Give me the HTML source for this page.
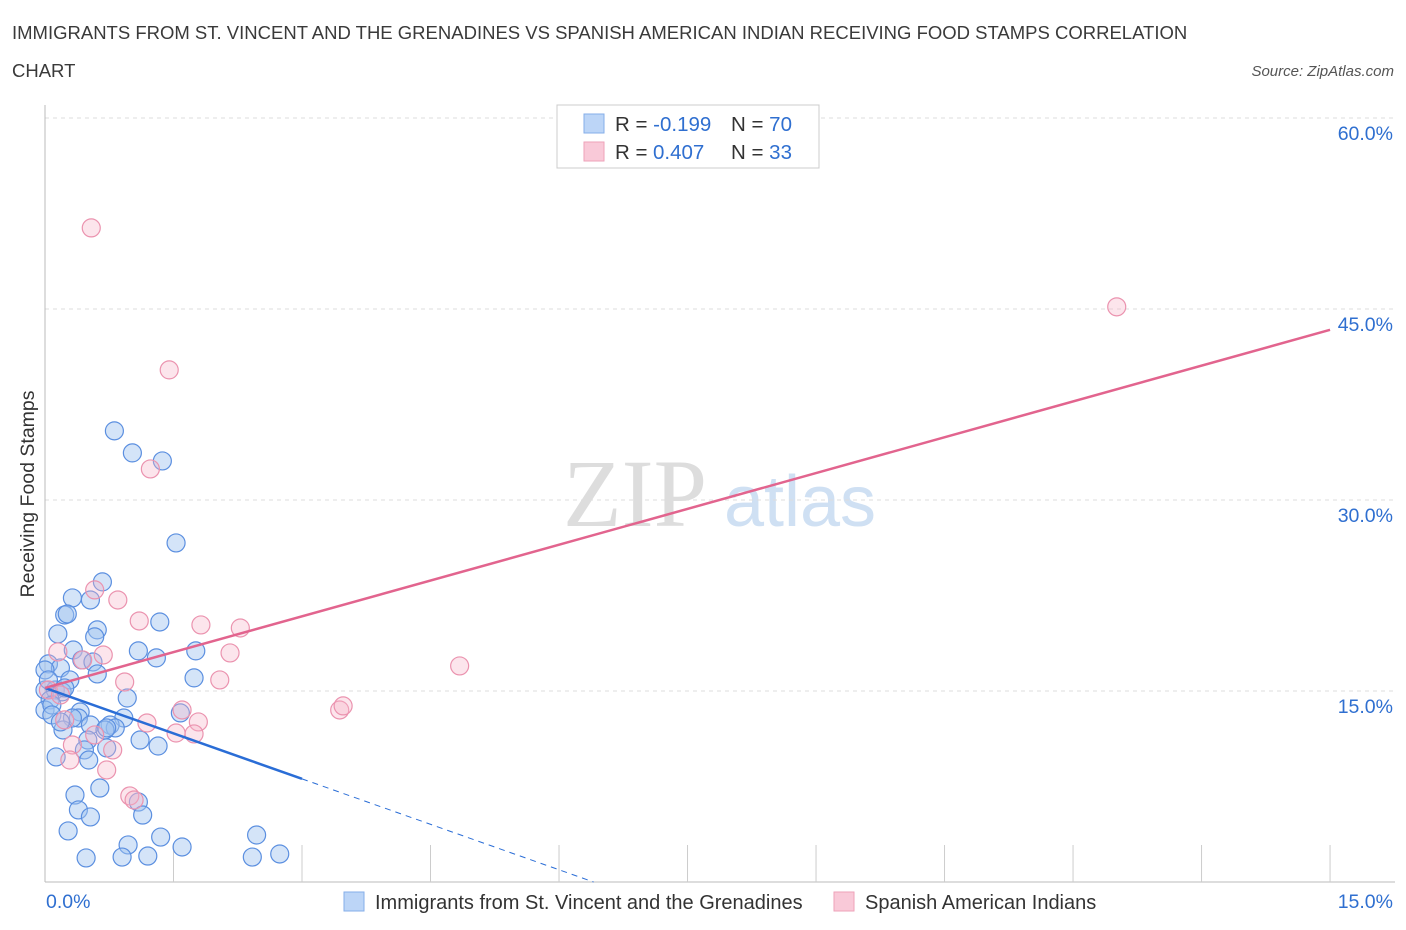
<!DOCTYPE html>
<html><head><meta charset="utf-8"><style>
body{margin:0;background:#fff;font-family:"Liberation Sans",sans-serif;}
</style></head><body>
<svg id="chart" width="1406" height="930" xmlns="http://www.w3.org/2000/svg" style="display:block">
<text x="12" y="39" font-size="18.5" fill="#3a3a3a">IMMIGRANTS FROM ST. VINCENT AND THE GRENADINES VS SPANISH AMERICAN INDIAN RECEIVING FOOD STAMPS CORRELATION</text>
<text x="12" y="77" font-size="18.5" fill="#3a3a3a">CHART</text>
<text x="1394" y="76" font-size="15" font-style="italic" fill="#555" text-anchor="end">Source: ZipAtlas.com</text>
<text transform="translate(34,494) rotate(-90)" font-size="19.5" fill="#333" text-anchor="middle">Receiving Food Stamps</text>
<g>
<text x="635" y="526" font-size="96" font-family="Liberation Serif,serif" fill="#ddd" text-anchor="middle">ZIP</text>
<text x="800" y="526" font-size="72" fill="#cfe0f3" text-anchor="middle">atlas</text>
</g>
<g id="grid"></g><g id="axes"></g><g id="marks"></g>
<g>
<rect x="557" y="105" width="262" height="63" fill="#fff" stroke="#ccc"/>
<rect x="584" y="114" width="20" height="19" fill="#bcd5f7" stroke="#85aee8"/>
<rect x="584" y="142" width="20" height="19" fill="#f9c9d8" stroke="#eea2b9"/>
<text x="615" y="131" font-size="20.5" fill="#333">R = <tspan fill="#2f6fd0">-0.199</tspan><tspan x="731">N = </tspan><tspan fill="#2f6fd0">70</tspan></text>
<text x="615" y="159" font-size="20.5" fill="#333">R = <tspan fill="#2f6fd0" x="653">0.407</tspan><tspan x="731">N = </tspan><tspan fill="#2f6fd0">33</tspan></text>
</g>
<g>
<rect x="344" y="892" width="20" height="19" fill="#bcd5f7" stroke="#85aee8"/>
<text x="375" y="909" font-size="20" fill="#333">Immigrants from St. Vincent and the Grenadines</text>
<rect x="834" y="892" width="20" height="19" fill="#f9c9d8" stroke="#eea2b9"/>
<text x="865" y="909" font-size="20" fill="#333">Spanish American Indians</text>
</g>
</svg>
<script>
const blueX=[0.81,1.02,1.37,1.53,0.67,0.32,0.53,0.23,0.26,0.15,0.61,0.58,1.34,1.09,1.30,1.76,0.33,0.43,0.56,0.04,0.18,0.61,0.29,1.74,0.00,0.12,0.20,0.06,0.96,0.00,0.08,0.41,0.39,0.53,0.32,1.58,0.92,0.76,0.82,0.70,0.21,0.50,1.11,1.32,0.46,0.13,0.51,0.64,0.35,1.09,0.39,0.53,1.14,0.27,1.35,2.47,0.97,1.60,0.48,0.90,1.20,2.42,2.74,0.72,0.00,0.04,0.08,0.18,0.72,0.23];
const blueY=[35.43,33.70,33.07,26.63,23.57,22.31,22.15,20.97,21.05,19.48,19.80,19.25,20.42,18.15,17.60,18.15,18.22,17.44,17.28,17.13,16.81,16.34,15.87,16.03,15.08,15.08,14.93,14.30,14.45,13.51,13.90,13.35,12.88,12.33,12.88,13.28,12.88,12.33,12.10,11.94,11.94,11.15,11.15,10.68,10.37,9.82,9.58,7.38,6.83,6.28,5.66,5.11,5.26,4.01,3.53,3.69,2.91,2.75,1.89,1.96,2.04,1.96,2.20,10.53,16.65,15.87,13.12,12.57,12.10,15.24];
const pinkX=[0.54,1.45,12.51,1.23,0.58,0.85,1.10,1.82,2.28,2.16,0.68,0.15,0.44,4.84,2.04,0.93,0.04,0.18,1.60,3.44,3.48,1.79,1.19,1.53,1.74,0.32,0.79,0.29,0.72,0.99,1.04,0.23,0.58];
const pinkY=[51.37,40.22,45.17,32.44,22.94,22.15,20.50,20.19,19.95,17.99,17.83,18.07,17.44,16.97,15.87,15.71,15.08,14.69,13.51,13.51,13.83,12.57,12.49,11.70,11.63,10.76,10.37,9.58,8.80,6.76,6.44,12.73,11.55];
const yTicks=[15,30,45,60];
const yTickLabels=["15.0%","30.0%","45.0%","60.0%"];
const xTickLabels=["0.0%","15.0%"];
const blueTrend=[15.24,-2.38]; // intercept, slope
const pinkTrend=[15.24,1.875];

const NS="http://www.w3.org/2000/svg";
const sx=v=>45+v*85.67, sy=v=>882-v*12.733;
function mk(t,a,p){const e=document.createElementNS(NS,t);for(const k in a)e.setAttribute(k,a[k]);p.appendChild(e);return e;}
const grid=document.getElementById('grid'),axes=document.getElementById('axes'),marks=document.getElementById('marks');
yTicks.forEach((t,i)=>{
 const l=mk('line',{x1:45,x2:1395,y1:sy(t),y2:sy(t),stroke:'#ddd','stroke-dasharray':'4,4'},grid);
 
 
 const tx=mk('text',{x:1393,y:sy(t)+22,'font-size':19.5,fill:'#2f6fd0','text-anchor':'end'},axes);
 tx.textContent=yTickLabels[i];
 
 
});
const ya=mk('line',{x1:45,x2:45,y1:105,y2:882,stroke:'#bbb'},axes);


const xa=mk('line',{x1:45,x2:1395,y1:882,y2:882,stroke:'#bbb'},axes);


for(let i=1;i<=10;i++){
 const t=mk('line',{x1:sx(i*1.5),x2:sx(i*1.5),y1:845,y2:882,stroke:'#ccc'},axes);
 
 
}
[[0,'start',46],[15,'end',1393]].forEach((d,i)=>{
 const tx=mk('text',{x:d[2],y:908,'font-size':19.5,fill:'#2f6fd0','text-anchor':d[1]},axes);
 tx.textContent=xTickLabels[i];
 
 
});
blueX.forEach((x,i)=>{
 const c=mk('circle',{cx:sx(x),cy:sy(blueY[i]),r:9,fill:'rgba(160,196,240,0.45)',stroke:'#5b8fe0','stroke-width':1.2},marks);
 
 
});
pinkX.forEach((x,i)=>{
 const c=mk('circle',{cx:sx(x),cy:sy(pinkY[i]),r:9,fill:'rgba(245,180,200,0.35)',stroke:'#eb93af','stroke-width':1.2},marks);
 
 
});
const bl=mk('line',{x1:sx(0),y1:sy(blueTrend[0]),x2:sx(3),y2:sy(blueTrend[0]+3*blueTrend[1]),stroke:'#2a6dd6','stroke-width':2.5},marks);


const xz=-blueTrend[0]/blueTrend[1];
const bd=mk('line',{x1:sx(3),y1:sy(blueTrend[0]+3*blueTrend[1]),x2:sx(xz),y2:sy(0),stroke:'#2a6dd6','stroke-width':1,'stroke-dasharray':'6,5'},marks);


const pl=mk('line',{x1:sx(0),y1:sy(pinkTrend[0]),x2:sx(15),y2:sy(pinkTrend[0]+15*pinkTrend[1]),stroke:'#e2648e','stroke-width':2.5},marks);


</script>
</body></html>
